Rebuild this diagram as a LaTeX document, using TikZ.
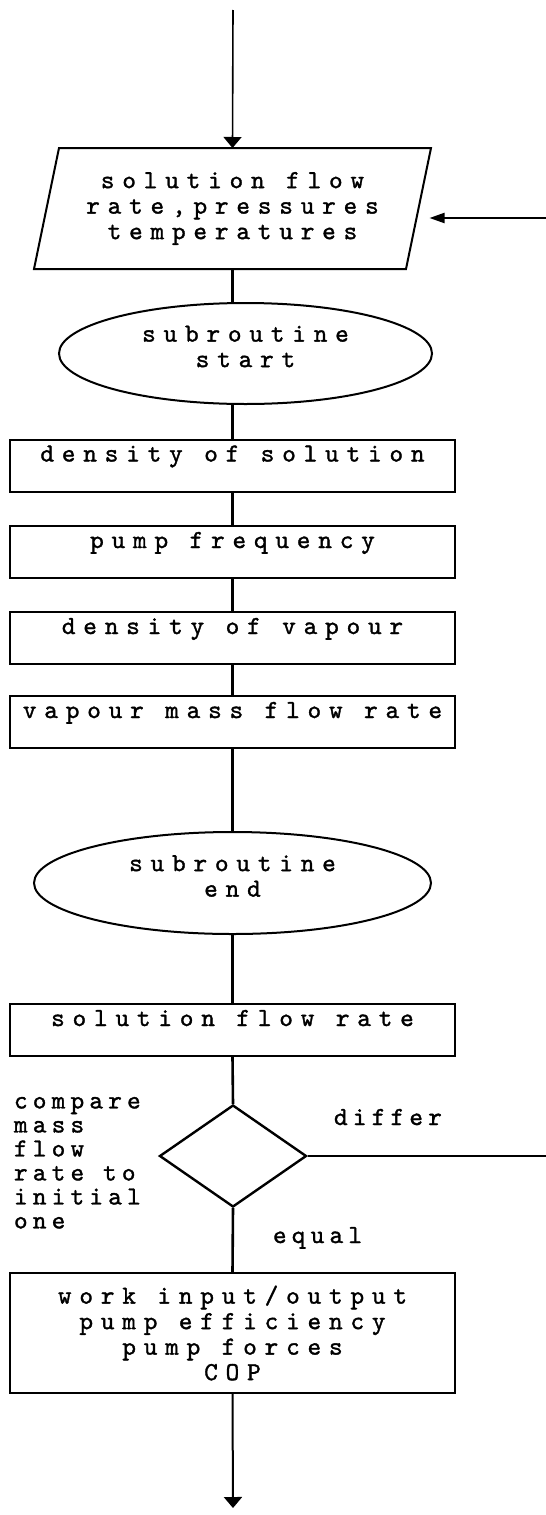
\documentclass[tikz,border=0pt]{standalone}
\usepackage{fontspec}
\newfontfamily\printfont{lmmono10-regular}[Extension=.otf,LetterSpace=30,FakeBold=1.3]
\newfontfamily\notefont{lmmono10-regular}[Extension=.otf,LetterSpace=20,FakeBold=1.3]
\usepackage{tikz}
\usetikzlibrary{arrows.meta,shapes.geometric}

\begin{document}
\begin{tikzpicture}[x=1pt,y=-1pt]
		\useasboundingbox (0,0) rectangle (546,1515);

		\coordinate (src) at (233,10);
		\coordinate (back) at (546,218);
		\coordinate (loop) at (546,1156);
		\coordinate (out) at (233,1508);

		\begin{scope}[every node/.style={font={\printfont\fontsize{26pt}{25.5pt}\selectfont},inner sep=0pt,line width=2pt},
					  every label/.style={align=center,yshift=7pt},
					  stepbox/.style={draw,anchor=north,minimum width=445pt,text height=22pt,text depth=30pt},
					  remark/.style={font={\notefont\fontsize{26pt}{24pt}\selectfont}}]
			\node (inp) at (232.5,208.5) [minimum width=370pt,minimum height=119pt,align=center] {solution flow\\rate,pressures\\temperatures};
			\node (st) at (245.5,353.5) [ellipse,draw,minimum width=373pt,minimum height=101pt,label=center:{subroutine\\start}] {};
			\node (dsol) at (232.5,438.5) [stepbox] {density of solution};
			\node (freq) at (232.5,525) [stepbox] {pump frequency};
			\node (dvap) at (232.5,611) [stepbox] {density of vapour};
			\node (vflow) at (232.5,695) [stepbox] {vapour mass flow rate};
			\node (en) at (232.5,883) [ellipse,draw,minimum width=397pt,minimum height=102pt,label=center:{subroutine\\end}] {};
			\node (sflow) at (232.5,1003) [stepbox] {solution flow rate};
			\node (cmp) at (233,1156) [diamond,draw,line width=2.4pt,minimum width=147pt,minimum height=102pt] {};
			\node (work) at (232.5,1333) [draw,minimum width=445pt,minimum height=120pt,align=center] {work input/output\\pump efficiency\\pump forces\\COP};

			\node (note) at (13,1096) [remark,anchor=north west,align=left] {compare\\mass\\flow\\rate to\\initial\\one};
			\node (dif) at (333,1125) [remark,anchor=base west] {differ};
			\node (eq) at (272,1243) [remark,anchor=base west] {equal};
		\end{scope}

		% input box
		\draw [line width=2pt] ([xshift=12.5pt]inp.north west) -- ([xshift=12.5pt]inp.north east)
			-- ([xshift=-12.5pt]inp.south east) -- ([xshift=-12.5pt]inp.south west) -- cycle;

		\begin{scope}[>={Triangle[length=11pt,width=18pt]},
					  every edge/.style={draw=black,line width=2.6pt}]
			\path [->] (src) edge [line width=1.6pt] (inp.north);
			\path [->] (back) edge [line width=2pt,>={Triangle[length=15pt,width=10pt]}] ([xshift=11pt]back -| inp.east);
			\path [-] (inp.south) edge (inp.south |- st.north);
			\path [-] (inp.south |- st.south) edge (dsol.north);
			\path [-] (dsol) edge (freq);
			\path [-] (freq) edge (dvap);
			\path [-] (dvap) edge (vflow);
			\path [-] (vflow) edge (en);
			\path [-] (en) edge (sflow);
			\path [-] (sflow.south) edge (cmp.north);
			\path [-] (cmp.east) edge (loop);
			\path [-] (cmp.south) edge (work.north);
			\path [->] (work.south) edge [line width=2pt] (out);
		\end{scope}
		\end{tikzpicture}
\end{document}
